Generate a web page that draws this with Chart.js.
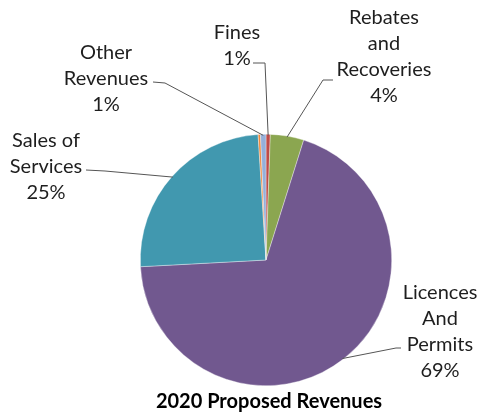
<!DOCTYPE html>
<html>
<head>
<meta charset="utf-8">
<title>2020 Proposed Revenues</title>
<script src="https://cdn.jsdelivr.net/npm/chart.js@4.4.1/dist/chart.umd.min.js"></script>
<style>
  html, body { margin: 0; padding: 0; background: #fff; }
  canvas { display: block; }
</style>
</head>
<body>
<canvas id="chart-revenues" width="480" height="412"></canvas>
<script>
// share of total revenue, in percent, clockwise from 12 o'clock
var categories = ['Fines', 'Rebates and Recoveries', 'Licences And Permits', 'Sales of Services', '', 'Other Revenues'];
var values = [0.55, 4.3, 69.3, 24.85, 0.3, 0.7];
var colors = ['#BE4B48', '#8BA650', '#71588F', '#4198AF', '#F0883A', '#95B0DA'];

// label text lines (the percent line is added from the data)
var labelLines = [['Fines'], ['Rebates', 'and', 'Recoveries'], ['Licences', 'And', 'Permits'], ['Sales of', 'Services'], null, ['Other', 'Revenues']];

// where each label sits: text centre x, first baseline y, and the elbow of its leader line
var labelLayout = [
    { x: 237, y: 39, elbow: [[253, 63], [265, 63]] },
    { x: 384, y: 24, elbow: [[333, 80], [323, 80]] },
    { x: 440, y: 299, elbow: [[401, 348], [396, 348]] },
    { x: 46, y: 147, elbow: [[86, 170], [105, 171]] },
    null,
    { x: 106, y: 59, elbow: [[153, 82], [165, 83]] }
];

var FONT = '20px Lato, "Open Sans", sans-serif';
var LINE_H = 26;

var labelsPlugin = {
    id: 'sliceLabels',
    afterDraw: function(chart) {
        var ctx = chart.ctx;
        var meta = chart.getDatasetMeta(0);
        var data = chart.data.datasets[0].data;
        var total = data.reduce(function(a, b) { return a + b; }, 0);

        ctx.save();
        meta.data.forEach(function(arc, i) {
            var lay = labelLayout[i];
            if (!lay) return;
            var p = arc.getProps(['x', 'y', 'startAngle', 'endAngle', 'outerRadius'], true);
            var mid = (p.startAngle + p.endAngle) / 2;
            var ax = p.x + Math.cos(mid) * (p.outerRadius - 1);
            var ay = p.y + Math.sin(mid) * (p.outerRadius - 1);

            // leader line
            ctx.strokeStyle = '#555';
            ctx.lineWidth = 1;
            ctx.beginPath();
            ctx.moveTo(lay.elbow[0][0], lay.elbow[0][1]);
            ctx.lineTo(lay.elbow[1][0], lay.elbow[1][1]);
            ctx.lineTo(ax, ay);
            ctx.stroke();

            // label text
            var lines = labelLines[i].concat([Math.round(data[i] / total * 100) + '%']);
            ctx.fillStyle = '#1e1e1e';
            ctx.font = FONT;
            ctx.textAlign = 'center';
            ctx.textBaseline = 'alphabetic';
            lines.forEach(function(t, k) {
                ctx.fillText(t, lay.x, lay.y + k * LINE_H);
            });
        });

        // chart title under the pie
        ctx.font = 'bold 20px Lato, "Open Sans", sans-serif';
        ctx.fillStyle = '#000';
        ctx.textAlign = 'center';
        ctx.fillText('2020 Proposed Revenues', 269, 408);
        ctx.restore();
    }
};

var config = {
    type: 'pie',
    data: {
        labels: categories,
        datasets: [{
            data: values,
            backgroundColor: colors,
            borderColor: 'rgba(255,255,255,0.6)',
            borderWidth: 0.6
        }]
    },
    options: {
        responsive: false,
        animation: false,
        layout: {
            padding: { top: 134, bottom: 26, left: 140, right: 88 }
        },
        plugins: {
            legend: { display: false },
            tooltip: { enabled: false },
            title: { display: false }
        }
    },
    plugins: [labelsPlugin]
};

window.onload = function() {
    var ctx = document.getElementById('chart-revenues').getContext('2d');
    window.revenueChart = new Chart(ctx, config);
};
</script>
</body>
</html>
